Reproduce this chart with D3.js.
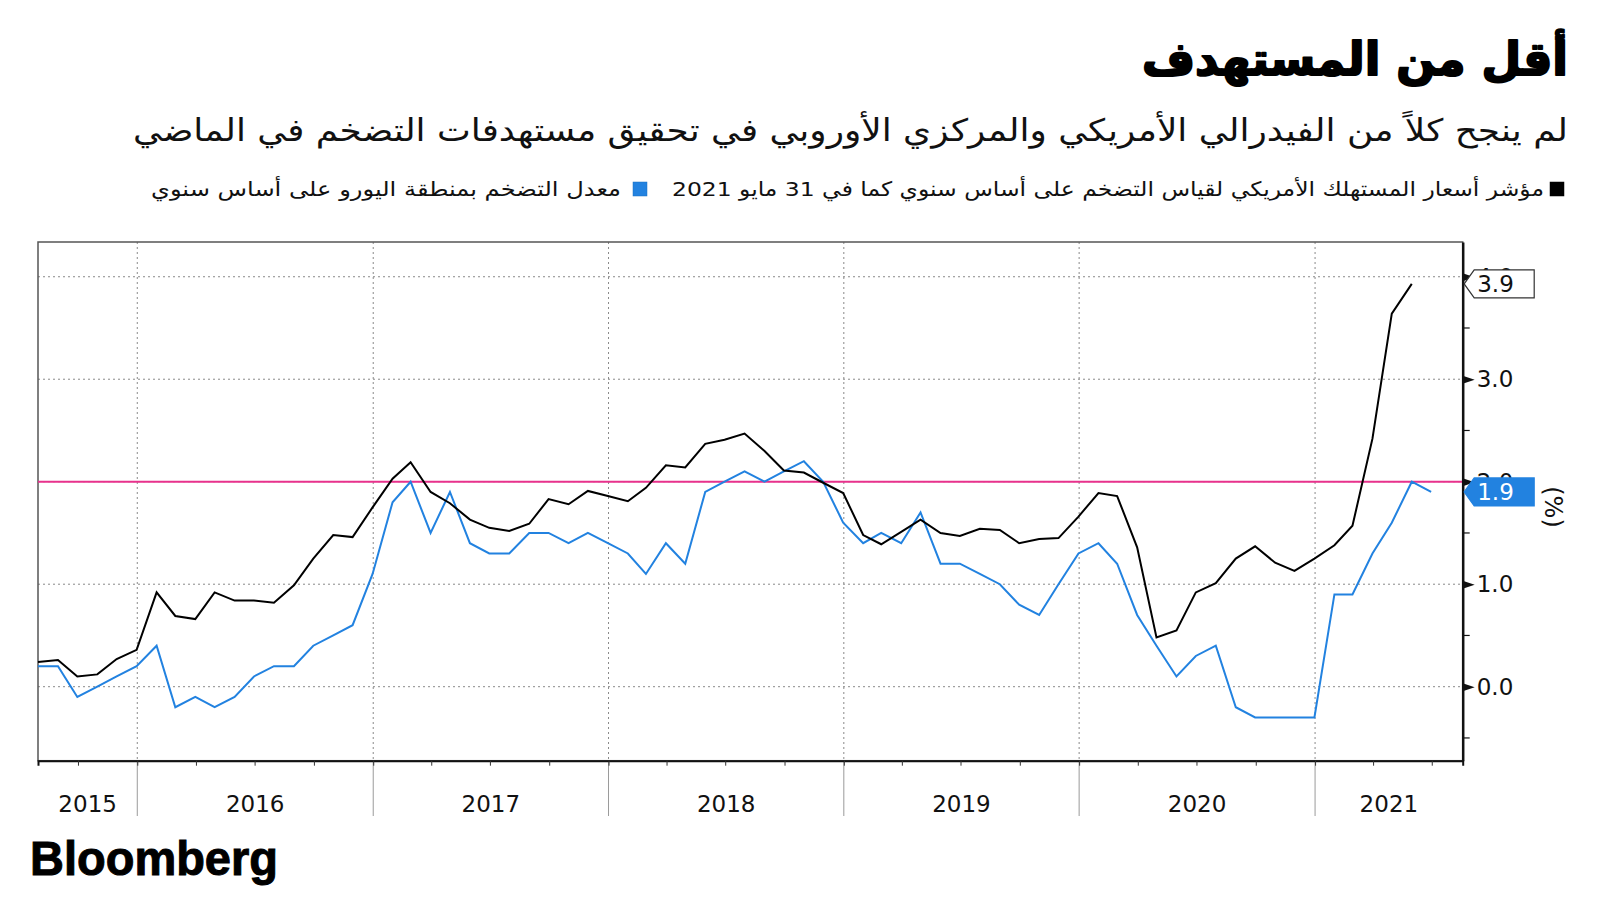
<!DOCTYPE html>
<html><head><meta charset="utf-8">
<script src="https://cdn.jsdelivr.net/npm/d3@7/dist/d3.min.js"></script>
<style>body{margin:0;background:#fff}svg{display:block}</style>
</head><body>
<svg id="c" width="1600" height="900"></svg>
<script>
// ---------- data ----------
const titleText = "أقل من المستهدف";
const subtitleText = "لم ينجح كلاً من الفيدرالي الأمريكي والمركزي الأوروبي في تحقيق مستهدفات التضخم في الماضي";
const seriesNames = [
  "مؤشر أسعار المستهلك الأمريكي لقياس التضخم على أساس سنوي كما في 31 مايو 2021",
  "معدل التضخم بمنطقة اليورو على أساس سنوي"
];
const startYear = 2015, startMonth = 6; // first observation: July 2015 (month-end)
const usValues = [0.24,0.26,0.10,0.12,0.27,0.36,0.92,0.69,0.66,0.92,0.84,0.84,0.82,0.99,1.25,1.48,1.46,1.75,2.03,2.19,1.90,1.79,1.63,1.55,1.52,1.59,1.83,1.78,1.91,1.86,1.81,1.94,2.16,2.14,2.37,2.41,2.47,2.30,2.11,2.09,1.99,1.89,1.48,1.39,1.51,1.63,1.50,1.47,1.54,1.53,1.40,1.44,1.45,1.66,1.89,1.86,1.36,0.48,0.55,0.92,1.01,1.25,1.37,1.21,1.13,1.25,1.38,1.57,2.42,3.64,3.93];
const euroValues = [0.2,0.2,-0.1,0.0,0.1,0.2,0.4,-0.2,-0.1,-0.2,-0.1,0.1,0.2,0.2,0.4,0.5,0.6,1.1,1.8,2.0,1.5,1.9,1.4,1.3,1.3,1.5,1.5,1.4,1.5,1.4,1.3,1.1,1.4,1.2,1.9,2.0,2.1,2.0,2.1,2.2,2.0,1.6,1.4,1.5,1.4,1.7,1.2,1.2,1.1,1.0,0.8,0.7,1.0,1.3,1.4,1.2,0.7,0.4,0.1,0.3,0.4,-0.2,-0.3,-0.3,-0.3,-0.3,0.9,0.9,1.3,1.6,2.0,1.9];
const targetValue = 2.0;
const yTicks = [0, 1, 2, 3, 4];
const yMinorTicks = [-0.5, 0.5, 1.5, 2.5, 3.5];
const yearLabels = ["2015","2016","2017","2018","2019","2020","2021"];
const lastLabels = ["3.9", "1.9"];
const unitLabel = "(%)";
const sourceText = "Bloomberg";

// ---------- layout ----------
const M = {left: 38, right: 1462.7, top: 242, bottom: 760.7};
const BLACK = "#000", BLUE = "#2282e0", PINK = "#e8328c";
const svg = d3.select("#c");
const monthEnd = i => new Date(startYear, startMonth + i + 1, 0);

const x = d3.scaleTime()
  .domain([new Date(2015, 6, 31), new Date(2021, 7, 18)])
  .range([M.left, M.right]);
const y = d3.scaleLinear().domain([-0.722, 4.339]).range([M.bottom, M.top]);

// grid
const grid = svg.append("g");
grid.selectAll("line.h").data(yTicks).join("line")
  .attr("x1", M.left).attr("x2", M.right)
  .attr("y1", d => y(d)).attr("y2", d => y(d))
  .attr("stroke", "#8a8a8a").attr("stroke-width", 1).attr("stroke-dasharray", "2,3");
const yearStarts = yearLabels.slice(1).map(s => new Date(+s, 0, 1));
grid.selectAll("line.v").data(yearStarts).join("line")
  .attr("x1", d => x(d)).attr("x2", d => x(d))
  .attr("y1", M.top).attr("y2", M.bottom)
  .attr("stroke", "#8a8a8a").attr("stroke-width", 1).attr("stroke-dasharray", "2,3");
grid.selectAll("line.vb").data(yearStarts).join("line")
  .attr("x1", d => x(d)).attr("x2", d => x(d))
  .attr("y1", M.bottom).attr("y2", 816)
  .attr("stroke", "#9a9a9a").attr("stroke-width", 1);

// frame
svg.append("rect").attr("x", M.left).attr("y", M.top)
  .attr("width", M.right - M.left).attr("height", M.bottom - M.top)
  .attr("fill", "none").attr("stroke", "#555").attr("stroke-width", 1.5);

// target line
svg.append("line").attr("x1", M.left).attr("x2", M.right)
  .attr("y1", y(targetValue)).attr("y2", y(targetValue))
  .attr("stroke", PINK).attr("stroke-width", 2);

// series
const line = d3.line().x((d, i) => x(monthEnd(i))).y(d => y(d));
svg.append("path").datum(euroValues).attr("d", line)
  .attr("fill", "none").attr("stroke", BLUE).attr("stroke-width", 2).attr("stroke-linejoin", "miter");
svg.append("path").datum(usValues).attr("d", line)
  .attr("fill", "none").attr("stroke", BLACK).attr("stroke-width", 2).attr("stroke-linejoin", "miter");

// x axis (quarter ticks)
const xAxis = d3.axisBottom(x).ticks(d3.timeMonth.every(3)).tickSize(5).tickFormat("");
const gx = svg.append("g").attr("transform", `translate(0,${M.bottom})`).call(xAxis);
gx.select(".domain").attr("stroke", "#111").attr("stroke-width", 2);
gx.selectAll(".tick line").attr("stroke", "#333");
const [d0, d1] = x.domain();
svg.append("g").selectAll("text").data(yearLabels).join("text")
  .attr("x", d => {
    const a = Math.max(+new Date(+d, 0, 1), +d0), b = Math.min(+new Date(+d + 1, 0, 1), +d1);
    return (x(new Date(a)) + x(new Date(b))) / 2;
  })
  .attr("y", 812).attr("text-anchor", "middle")
  .attr("font-family", "DejaVu Sans").attr("font-size", 23).attr("fill", "#111")
  .text(d => d);

// y axis (right)
const yAxis = d3.axisRight(y).tickValues(yTicks).tickSize(0).tickPadding(14).tickFormat(d3.format(".1f"));
const gy = svg.append("g").attr("transform", `translate(${M.right},0)`).call(yAxis);
gy.select(".domain").attr("stroke", "#111").attr("stroke-width", 2.5);
gy.selectAll(".tick text").attr("font-family", "DejaVu Sans").attr("font-size", 23).attr("fill", "#111");
gy.selectAll(".tick").append("path").attr("d", "M0,-4L12,0L0,4Z").attr("fill", "#111");
svg.append("g").selectAll("line").data(yMinorTicks).join("line")
  .attr("x1", M.right).attr("x2", M.right + 7)
  .attr("y1", d => y(d)).attr("y2", d => y(d))
  .attr("stroke", "#111").attr("stroke-width", 1.2);

// unit label
svg.append("text").attr("transform", `translate(1553,507) rotate(90)`)
  .attr("text-anchor", "middle").attr("dy", "0.35em")
  .attr("font-family", "DejaVu Sans").attr("font-size", 24).attr("fill", "#111")
  .text(unitLabel);

// last-value labels (drawn over the partly hidden axis labels, as in the original)
const lastData = [
  {v: usValues[usValues.length - 1], t: lastLabels[0], fill: "#fff", stroke: "#333", color: "#111"},
  {v: euroValues[euroValues.length - 1], t: lastLabels[1], fill: BLUE, stroke: BLUE, color: "#fff"}
];
const lg = svg.append("g").selectAll("g").data(lastData).join("g")
  .attr("transform", d => `translate(${M.right + 1.5},${y(d.v)})`);
lg.append("path").attr("d", "M0,0L10,-14L70,-14L70,14L10,14Z")
  .attr("fill", d => d.fill).attr("stroke", d => d.stroke).attr("stroke-width", 1.2);
lg.append("text").attr("x", 13).attr("dy", "0.36em")
  .attr("font-family", "DejaVu Sans").attr("font-size", 23)
  .attr("fill", d => d.color).text(d => d.t);

// header
function fitText(sel, left, width) {
  sel.attr("x", left).attr("text-anchor", "start")
    .attr("textLength", width).attr("lengthAdjust", "spacingAndGlyphs");
  return sel;
}
fitText(svg.append("text").attr("y", 75)
  .attr("font-family", "DejaVu Sans").attr("font-weight", "bold").attr("font-size", 46).attr("fill", "#000")
  .attr("stroke", "#000").attr("stroke-width", 2).attr("stroke-linejoin", "round")
  .text(titleText), 1142, 426);
fitText(svg.append("text").attr("y", 141)
  .attr("font-family", "DejaVu Sans").attr("font-size", 31).attr("fill", "#111")
  .text(subtitleText), 133, 1435);

// legend
const legendItems = [
  {name: seriesNames[0], color: BLACK, sq: 1550, left: 672, width: 872},
  {name: seriesNames[1], color: BLUE, sq: 633, left: 151, width: 470}
];
legendItems.forEach(it => {
  svg.append("rect").attr("x", it.sq).attr("y", 182).attr("width", 14).attr("height", 14)
    .attr("fill", it.color).attr("stroke", it.color === BLACK ? "#000" : "#1a6fc0").attr("stroke-width", 0.5);
  fitText(svg.append("text").attr("y", 196)
    .attr("font-family", "DejaVu Sans").attr("font-size", 20).attr("fill", "#111")
    .text(it.name), it.left, it.width);
});

// source
svg.append("text").attr("x", 30).attr("y", 875)
  .attr("font-family", "Liberation Sans").attr("font-weight", "bold").attr("font-size", 48)
  .attr("textLength", 248).attr("lengthAdjust", "spacingAndGlyphs")
  .attr("stroke", "#000").attr("stroke-width", 1)
  .attr("fill", "#000").text(sourceText);
</script>
</body></html>
